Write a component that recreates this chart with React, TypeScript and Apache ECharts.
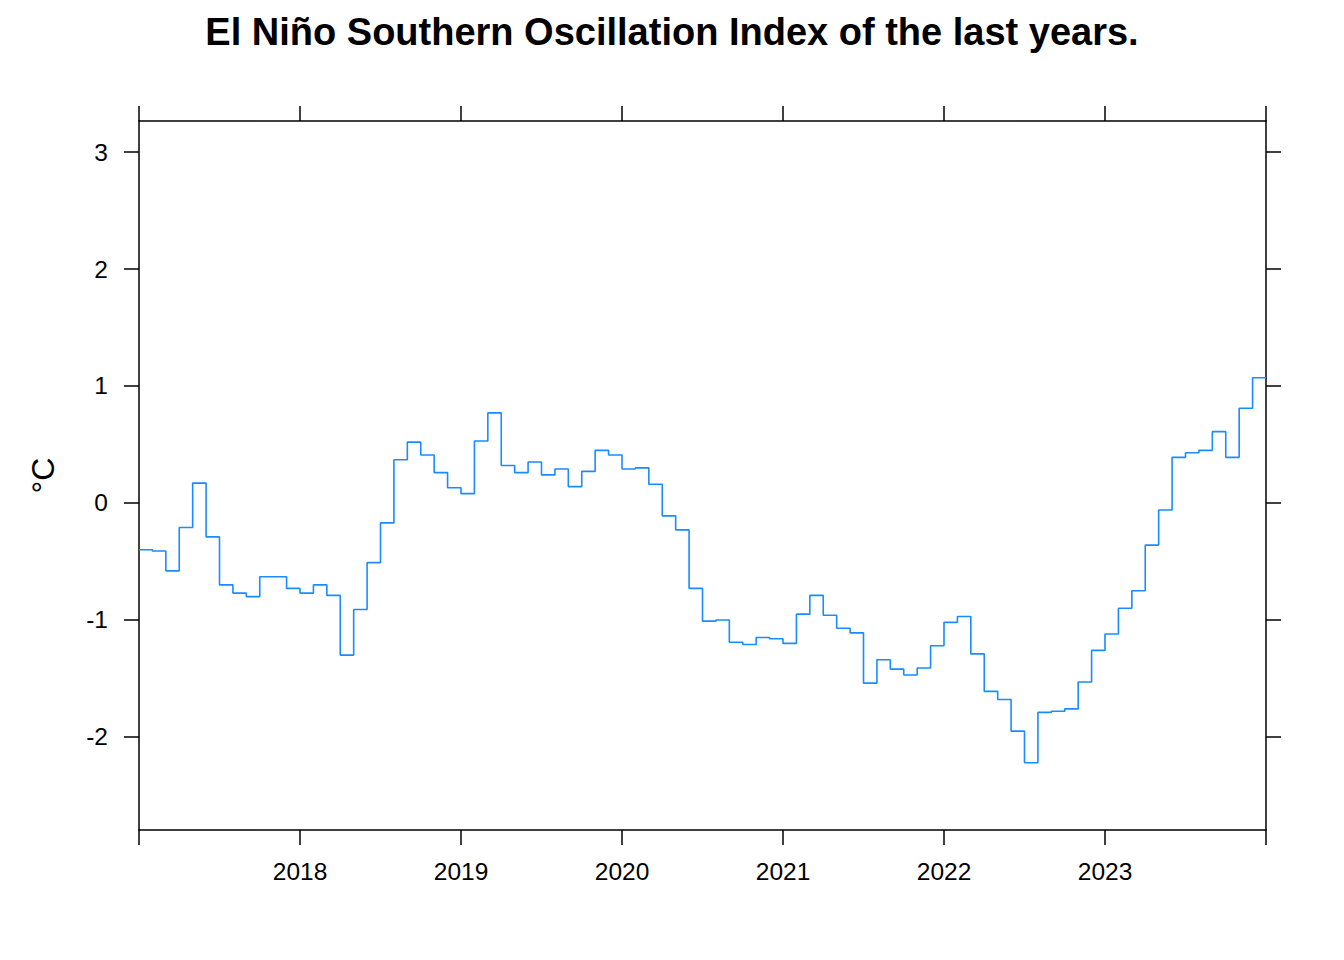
import React, { useEffect, useRef } from "react";
import * as echarts from "echarts";

const TITLE = "El Niño Southern Oscillation Index of the last years.";
const Y_NAME = "°C";
const YEARS = [2017, 2018, 2019, 2020, 2021, 2022, 2023];
const X_TICKS = [2017, 2018, 2019, 2020, 2021, 2022, 2023, 2024];
const X_LABELS = [2018, 2019, 2020, 2021, 2022, 2023];
const Y_TICKS = [-2, -1, 0, 1, 2, 3];

const enso2017 = [-0.4, -0.41, -0.58, -0.21, 0.17, -0.29, -0.7, -0.77, -0.8, -0.63, -0.63, -0.73];
const enso2018 = [-0.77, -0.7, -0.79, -1.3, -0.91, -0.51, -0.17, 0.37, 0.52, 0.41, 0.26, 0.13];
const enso2019 = [0.08, 0.53, 0.77, 0.32, 0.26, 0.35, 0.24, 0.29, 0.14, 0.27, 0.45, 0.41];
const enso2020 = [0.29, 0.3, 0.16, -0.11, -0.23, -0.73, -1.01, -1.0, -1.19, -1.21, -1.15, -1.16];
const enso2021 = [-1.2, -0.95, -0.79, -0.96, -1.07, -1.11, -1.54, -1.34, -1.42, -1.47, -1.41, -1.22];
const enso2022 = [-1.02, -0.97, -1.29, -1.61, -1.68, -1.95, -2.22, -1.79, -1.78, -1.76, -1.53, -1.26];
const enso2023 = [-1.12, -0.9, -0.75, -0.36, -0.06, 0.39, 0.43, 0.45, 0.61, 0.39, 0.81, 1.07];

const VALUES_BY_YEAR = [enso2017, enso2018, enso2019, enso2020, enso2021, enso2022, enso2023];

const FONT = "'Liberation Sans', Arial, Helvetica, sans-serif";

export default function App() {
  const ref = useRef<HTMLDivElement>(null);

  useEffect(() => {
    if (!ref.current) return;
    const chart = echarts.init(ref.current, null, { renderer: "svg" });

    const points: [number, number][] = [];
    YEARS.forEach((yr, yi) => {
      VALUES_BY_YEAR[yi].forEach((v, m) => {
        points.push([yr + m / 12, v]);
      });
    });
    // hold the last month's value until the end of the month
    const last = points[points.length - 1];
    points.push([YEARS[YEARS.length - 1] + 1, last[1]]);

    const axisLine = { show: true, onZero: false, lineStyle: { color: "#000", width: 1.5 } };
    const axisTickBase = { show: true, inside: false, length: 15, lineStyle: { color: "#000", width: 1.5 } };

    chart.setOption({
      animation: false,
      backgroundColor: "#fff",
      title: {
        text: TITLE,
        left: "center",
        top: 8,
        textStyle: { fontFamily: FONT, fontSize: 38, fontWeight: "bold", color: "#000" },
      },
      grid: { left: 139, right: 78, top: 121, bottom: 130, containLabel: false },
      xAxis: [
        {
          type: "value",
          position: "bottom",
          min: 2017,
          max: 2024,
          axisLine,
          axisTick: { ...axisTickBase, customValues: X_TICKS },
          axisLabel: {
            show: true,
            customValues: X_LABELS,
            margin: 29,
            fontFamily: FONT,
            fontSize: 24.5,
            color: "#000",
            formatter: (v: number) => String(Math.round(v)),
          },
          splitLine: { show: false },
        },
        {
          type: "value",
          position: "top",
          min: 2017,
          max: 2024,
          axisLine,
          axisTick: { ...axisTickBase, customValues: X_TICKS },
          axisLabel: { show: false },
          splitLine: { show: false },
        },
      ],
      yAxis: [
        {
          type: "value",
          position: "left",
          min: -2.795,
          max: 3.265,
          name: Y_NAME,
          nameLocation: "middle",
          nameRotate: 90,
          nameGap: 80,
          nameTextStyle: { fontFamily: FONT, fontSize: 32, color: "#000" },
          axisLine,
          axisTick: { ...axisTickBase, customValues: Y_TICKS },
          axisLabel: {
            show: true,
            customValues: Y_TICKS,
            margin: 31,
            fontFamily: FONT,
            fontSize: 24.5,
            color: "#000",
            formatter: (v: number) => String(Math.round(v)),
          },
          splitLine: { show: false },
        },
        {
          type: "value",
          position: "right",
          min: -2.795,
          max: 3.265,
          axisLine,
          axisTick: { ...axisTickBase, customValues: Y_TICKS },
          axisLabel: { show: false },
          splitLine: { show: false },
        },
      ],
      series: [
        {
          type: "line",
          xAxisIndex: 0,
          yAxisIndex: 0,
          data: points,
          step: "end",
          showSymbol: false,
          symbol: "none",
          lineStyle: { color: "#1a8cff", width: 1.6 },
        },
      ],
    });

    return () => chart.dispose();
  }, []);

  return (
    <div
      ref={ref}
      style={{ position: "fixed", left: 0, top: 0, width: 1344, height: 960, background: "#fff" }}
    />
  );
}
